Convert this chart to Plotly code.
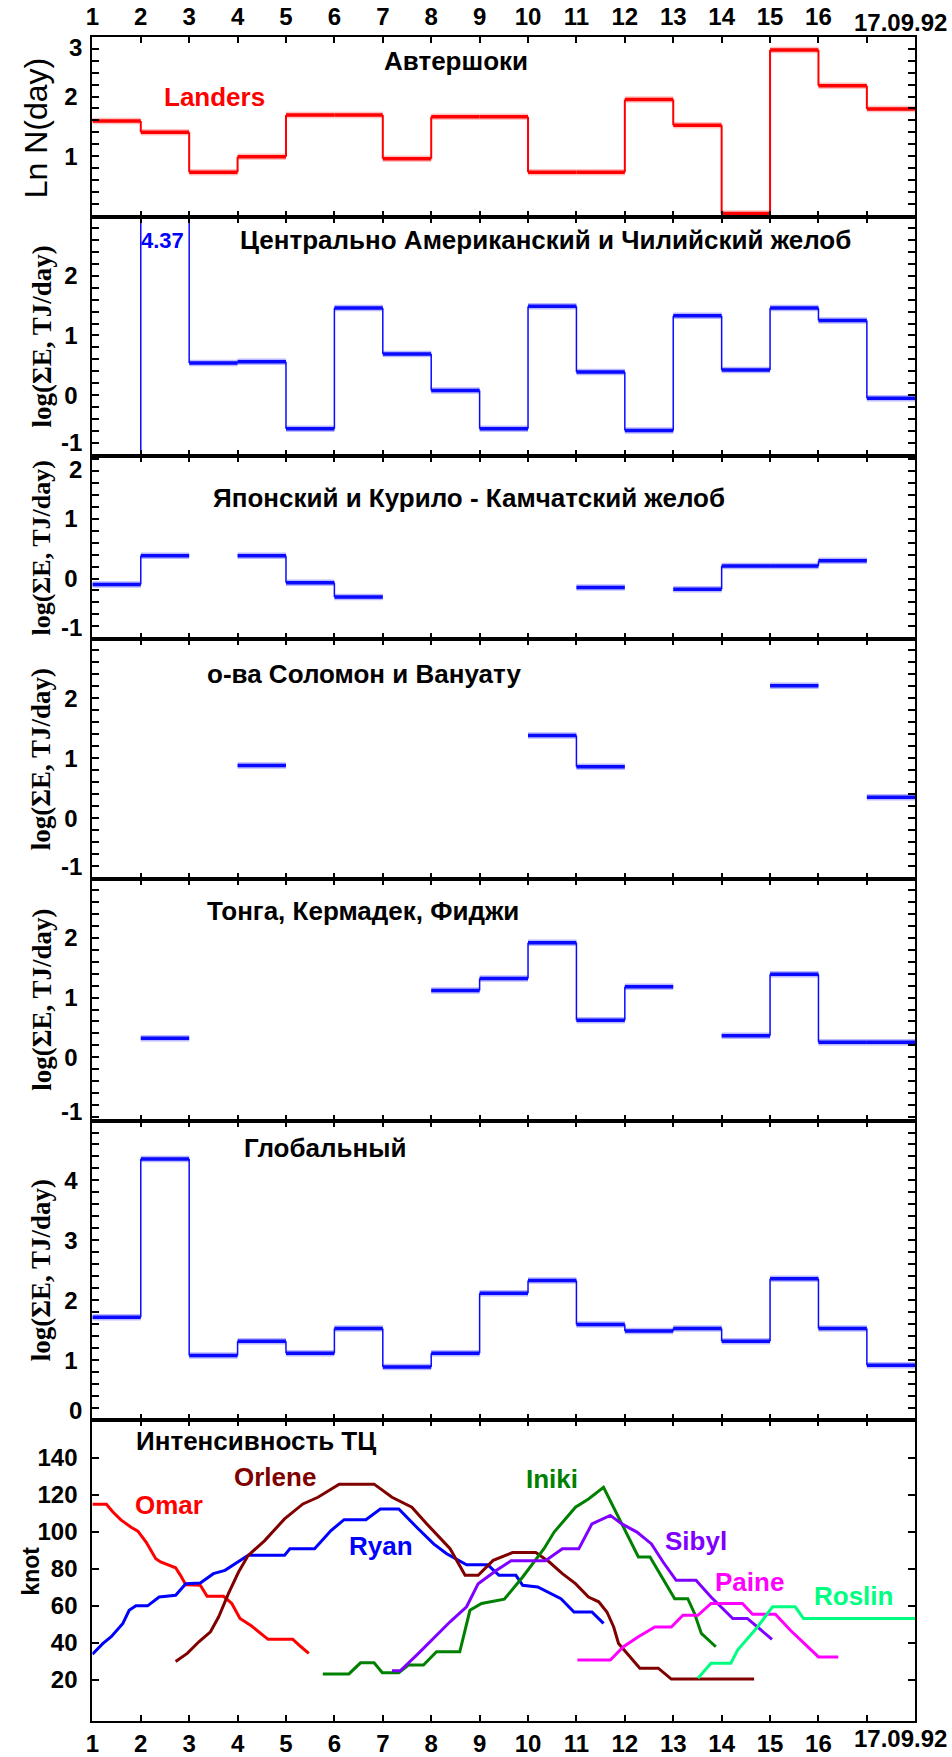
import plotly.graph_objects as go

# ---------------- data ----------------
DAYS = list(range(1, 18))                 # each daily value spans [day, day+1]
X_TICKS = list(range(1, 18))
X_TICK_TEXT = [str(d) for d in range(1, 17)] + [""]
LAST_DATE_LABEL = "17.09.92"

LANDERS = [1.59, 1.40, 0.73, 0.99, 1.69, 1.69, 0.96, 1.66, 1.66, 0.73, 0.73, 1.95, 1.52, 0.04, 2.78, 2.18, 1.79]
CA_CHILE = [None, 4.37, 0.54, 0.56, -0.56, 1.46, 0.69, 0.08, -0.56, 1.49, 0.39, -0.59, 1.33, 0.42, 1.46, 1.25, -0.05]
JAPAN = [-0.10, 0.38, None, 0.38, -0.07, -0.31, None, None, None, None, -0.15, None, -0.18, 0.21, 0.21, 0.30, None]
SOLOMON = [None, None, None, 0.88, None, None, None, None, None, 1.38, 0.86, None, None, None, 2.21, None, 0.35]
TONGA = [None, 0.32, None, None, None, None, None, 1.12, 1.32, 1.92, 0.62, 1.18, None, 0.36, 1.39, 0.25, 0.25]
GLOBAL = [1.72, 4.36, 1.08, 1.32, 1.12, 1.53, 0.89, 1.12, 2.12, 2.33, 1.60, 1.49, 1.53, 1.32, 2.36, 1.53, 0.92]

OMAR_DAY = [1.0, 1.29, 1.42, 1.59, 1.80, 1.94, 2.11, 2.21, 2.31, 2.41, 2.58, 2.72, 2.82, 2.93, 3.23, 3.37, 3.71, 3.88, 4.05, 4.29, 4.63, 5.14, 5.31, 5.47]
OMAR_KT = [115, 115, 111, 106.6, 102.6, 100.5, 94.6, 90, 85.6, 83.8, 82, 80.7, 76.6, 71.5, 71.2, 65.3, 65.3, 61.4, 53.3, 49.2, 42, 42, 38, 34.4]

RYAN_DAY = [1.0, 1.22, 1.39, 1.63, 1.76, 1.90, 2.14, 2.38, 2.72, 2.93, 3.23, 3.50, 3.74, 3.91, 4.22, 4.97, 5.08, 5.59, 5.93, 6.20, 6.65, 6.95, 7.33, 7.70, 8.05, 8.32, 8.73, 9.17, 9.40, 9.75, 9.89, 10.20, 10.44, 10.68, 10.95, 11.32, 11.56]
RYAN_KT = [34, 39.8, 43.4, 50.6, 57.7, 60.1, 60.1, 64.9, 65.8, 72.1, 72.5, 77.5, 79.3, 82.0, 87.4, 87.4, 91.0, 91.0, 100.8, 106.7, 106.7, 112.5, 112.5, 102.6, 93.6, 88.3, 82.3, 82.3, 76.6, 76.6, 71.2, 70.3, 67.1, 64.0, 56.8, 56.8, 50.6]

ORLENE_DAY = [2.72, 2.96, 3.20, 3.44, 3.61, 3.81, 4.02, 4.22, 4.56, 4.97, 5.35, 5.66, 6.10, 6.82, 7.19, 7.60, 7.91, 8.39, 8.70, 8.97, 9.28, 9.68, 10.16, 10.44, 10.71, 10.98, 11.25, 11.46, 11.63, 11.77, 11.87, 12.07, 12.31, 12.69, 12.96, 14.67]
ORLENE_KT = [30.0, 34.4, 40.7, 46.1, 54.2, 66.7, 78.4, 87.4, 95.4, 107.1, 115.2, 118.8, 125.9, 125.9, 118.8, 113.4, 104.4, 91.0, 76.6, 76.6, 84.7, 88.9, 88.9, 83.8, 77.5, 72.1, 64.9, 62.3, 56.8, 48.7, 39.8, 33.5, 26.4, 26.4, 20.5, 20.5]

INIKI_DAY = [5.76, 6.30, 6.54, 6.82, 6.99, 7.33, 7.53, 7.84, 8.11, 8.59, 8.80, 9.04, 9.51, 9.89, 10.33, 10.54, 10.98, 11.25, 11.56, 11.90, 12.28, 12.52, 12.76, 13.03, 13.30, 13.44, 13.58, 13.88]
INIKI_KT = [23.3, 23.3, 29.3, 29.3, 23.9, 23.9, 28.1, 28.1, 35.3, 35.3, 57.7, 61.4, 63.7, 75.7, 91.0, 100.0, 113.4, 117.9, 124.2, 106.2, 86.5, 86.5, 75.7, 64.0, 64.0, 56.0, 45.2, 38.0]

SIBYL_DAY = [7.19, 7.36, 7.70, 8.08, 8.39, 8.73, 8.97, 9.35, 9.65, 10.36, 10.71, 11.05, 11.32, 11.70, 11.94, 12.25, 12.55, 12.79, 13.06, 13.47, 13.78, 14.23, 14.53, 15.04]
SIBYL_KT = [25.0, 25.0, 33.5, 43.4, 51.5, 59.6, 72.1, 79.3, 84.5, 84.5, 91.0, 91.0, 104.4, 109.0, 104.4, 100.0, 93.6, 83.8, 73.9, 73.9, 64.9, 53.3, 53.3, 42.0]

PAINE_DAY = [11.02, 11.70, 11.97, 12.28, 12.62, 12.96, 13.20, 13.51, 13.78, 14.43, 14.64, 15.11, 15.42, 16.00, 16.41]
PAINE_KT = [30.8, 30.8, 38.0, 43.4, 48.7, 48.7, 55.0, 55.0, 61.4, 61.4, 55.6, 55.6, 46.9, 32.5, 32.5]

ROSLIN_DAY = [13.51, 13.78, 14.19, 14.33, 14.74, 15.05, 15.52, 15.69, 18.0]
ROSLIN_KT = [21.0, 29.1, 29.1, 36.2, 48.7, 59.6, 59.6, 53.3, 53.3]

KNOT_TICKS = [20, 40, 60, 80, 100, 120, 140]

# integer labels per energy panel (edge labels are nudged inward, as in the original)
Y_LABELS = [[1, 2, 3], [-1, 0, 1, 2, 3], [-1, 0, 1, 2], [-1, 0, 1, 2, 3], [-1, 0, 1, 2, 3], [0, 1, 2, 3, 4]]

# ---------------- layout constants ----------------
W, H = 952, 1757
PLOT_L, PLOT_R = 86, 915
PANEL_PX = [(37, 218), (218, 458), (458, 642), (642, 883), (883, 1125), (1125, 1426), (1426, 1728)]
Y_RANGES = [[-0.02, 3.0], [-1.02, 2.98], [-1.02, 2.05], [-1.02, 2.98], [-1.06, 2.98], [0, 5.0], [-2.2, 160.4]]
EDGE_NUDGE = {1: {3: 11}, 2: {3: 12, -1: -12}, 3: {2: 10, -1: -11}, 4: {3: 14, -1: -12},
              5: {3: 14, -1: -5}, 6: {0: -10}}
SANS = "Liberation Sans, Arial, sans-serif"
SERIF = "Liberation Serif, Times New Roman, serif"
BLUE = "#0a0aff"
BLUE_HALO = "rgba(80,80,255,0.40)"
TICK_FONT = dict(family=SANS, size=24, color="black", weight="bold")
LABEL_STANDOFF = 8

fig = go.Figure()


def axname(i, kind):
    return kind if i == 1 else f"{kind}{i}"


def add_steps(i, vals, color, halo, hw, vw, rise_from_floor=False):
    xa, ya = axname(i, "x"), axname(i, "y")
    hx, hy = [], []
    for d, v in zip(DAYS, vals):
        if v is None:
            continue
        hx += [d, d + 1, None]
        hy += [v, v, None]
    vx, vy = [], []
    for k in range(len(vals) - 1):
        a, b = vals[k], vals[k + 1]
        if b is None:
            continue
        if a is None:
            if rise_from_floor:
                a = Y_RANGES[i - 1][0] - 1
            else:
                continue
        if a == b:
            continue
        vx += [DAYS[k + 1], DAYS[k + 1], None]
        vy += [a, b, None]
    if halo:
        fig.add_trace(go.Scatter(x=hx, y=hy, mode="lines", line=dict(color=halo, width=hw + 3),
                                 xaxis=xa, yaxis=ya, hoverinfo="skip", showlegend=False))
    fig.add_trace(go.Scatter(x=vx, y=vy, mode="lines", line=dict(color=color, width=vw),
                             xaxis=xa, yaxis=ya, hoverinfo="skip", showlegend=False))
    fig.add_trace(go.Scatter(x=hx, y=hy, mode="lines", line=dict(color=color, width=hw),
                             xaxis=xa, yaxis=ya, hoverinfo="skip", showlegend=False))


add_steps(1, LANDERS, "#ff0000", "rgba(255,80,80,0.35)", 3.5, 2)
add_steps(2, CA_CHILE, BLUE, BLUE_HALO, 3.5, 1.5, rise_from_floor=True)
add_steps(3, JAPAN, BLUE, BLUE_HALO, 3.5, 1.5)
add_steps(4, SOLOMON, BLUE, BLUE_HALO, 3.5, 1.5)
add_steps(5, TONGA, BLUE, BLUE_HALO, 3.5, 1.5)
add_steps(6, GLOBAL, BLUE, BLUE_HALO, 3.5, 1.5)

TC = [
    ("Omar", OMAR_DAY, OMAR_KT, "#ff0000"),
    ("Ryan", RYAN_DAY, RYAN_KT, "#0000ff"),
    ("Orlene", ORLENE_DAY, ORLENE_KT, "#800000"),
    ("Iniki", INIKI_DAY, INIKI_KT, "#008000"),
    ("Sibyl", SIBYL_DAY, SIBYL_KT, "#8000ff"),
    ("Paine", PAINE_DAY, PAINE_KT, "#ff00ff"),
    ("Roslin", ROSLIN_DAY, ROSLIN_KT, "#00ff80"),
]
for name, xs, ys, col in TC:
    fig.add_trace(go.Scatter(x=xs, y=ys, mode="lines", name=name, line=dict(color=col, width=3),
                             xaxis="x7", yaxis="y7", hoverinfo="skip", showlegend=False))


# ---------------- text helper ----------------
def ann(text, x_px, y_px, size, color="black", weight="bold", family=SANS,
        xanchor="center", angle=0):
    return dict(text=text, x=x_px / W, y=1 - y_px / H, xref="paper", yref="paper",
                xanchor=xanchor, yanchor="middle", showarrow=False, textangle=angle,
                font=dict(family=family, size=size, color=color, weight=weight))


anns = []

# ---------------- axes ----------------
layout_axes = {}
for i in range(1, 8):
    top, bot = PANEL_PX[i - 1]
    lo, hi = Y_RANGES[i - 1]
    xkey = "xaxis" if i == 1 else f"xaxis{i}"
    ykey = "yaxis" if i == 1 else f"yaxis{i}"
    show_x = i in (1, 7)
    layout_axes[xkey] = dict(
        domain=[PLOT_L / W, PLOT_R / W], range=[1, 18], anchor=axname(i, "y"),
        tickmode="array", tickvals=X_TICKS, ticktext=X_TICK_TEXT,
        ticks="inside", ticklen=6, tickwidth=1.5, tickcolor="black",
        showline=True, linewidth=2, linecolor="black", mirror="ticks",
        showgrid=False, zeroline=False, showticklabels=show_x,
        side="top" if i == 1 else "bottom", tickfont=TICK_FONT,
    )
    if i < 7:
        labels = Y_LABELS[i - 1]
        nudges = EDGE_NUDGE.get(i, {})
        start = round(-(-lo // 0.2) * 0.2, 1)
        tv, tt = [], []
        v = start
        while v <= hi + 1e-9:
            vr = round(v, 1)
            tv.append(vr)
            is_int = abs(vr - round(vr)) < 1e-9
            iv = int(round(vr))
            if is_int and iv in labels and iv not in nudges:
                tt.append(str(iv))
            else:
                tt.append("")
            v += 0.2
        for val, shift in nudges.items():
            anns.append(dict(text=str(val), x=(PLOT_L - LABEL_STANDOFF) / W, xref="paper",
                             xanchor="right", y=val, yref=axname(i, "y"), yanchor="middle",
                             yshift=-shift, showarrow=False, font=TICK_FONT))
    else:
        tv = KNOT_TICKS
        tt = [str(k) for k in KNOT_TICKS]
    layout_axes[ykey] = dict(
        domain=[1 - bot / H, 1 - top / H], range=[lo, hi], anchor=axname(i, "x"),
        tickmode="array", tickvals=tv, ticktext=tt,
        ticks="inside", ticklen=7, tickwidth=1.5, tickcolor="black",
        showline=True, linewidth=2, linecolor="black", mirror="ticks",
        showgrid=False, zeroline=False, ticklabelstandoff=LABEL_STANDOFF,
        tickfont=TICK_FONT,
    )

# ---------------- text ----------------
anns += [
    ann(LAST_DATE_LABEL, 900, 23, 24),
    ann(LAST_DATE_LABEL, 900, 1745, 24),
    ann("Автершоки", 452, 61, 26),
    ann("Landers", 209, 97, 26, color="#ff0000"),
    ann("4.37", 157, 241, 22, color="#0000ff"),
    ann("Центрально Американский и Чилийский желоб", 542, 241, 26),
    ann("Японский и Курило - Камчатский желоб", 465, 500, 26),
    ann("о-ва Соломон и Вануату", 199, 677, 26, xanchor="left"),
    ann("Тонга, Кермадек, Фиджи", 199, 915, 26, xanchor="left"),
    ann("Глобальный", 320, 1153, 26),
    ann("Интенсивность ТЦ", 128, 1447, 26, xanchor="left"),
    ann("Omar", 163, 1511, 26, color="#ff0000"),
    ann("Orlene", 270, 1483, 26, color="#800000"),
    ann("Ryan", 377, 1552, 26, color="#0000ff"),
    ann("Iniki", 549, 1485, 26, color="#008000"),
    ann("Sibyl", 694, 1547, 26, color="#8000ff"),
    ann("Paine", 748, 1588, 26, color="#ff00ff"),
    ann("Roslin", 853, 1602, 26, color="#00ff80"),
    ann("Ln N(day)", 30, 128, 32, weight="normal", angle=-90),
    ann("knot", 24, 1577, 23, angle=-90),
]
for i in range(2, 7):
    top, bot = PANEL_PX[i - 1]
    anns.append(ann("log(ΣE, TJ/day)", 35, (top + bot) / 2, 26 if i == 3 else 27,
                    family=SERIF, angle=-90))

fig.update_layout(
    width=W, height=H, margin=dict(l=0, r=0, t=0, b=0),
    paper_bgcolor="white", plot_bgcolor="white", showlegend=False,
    annotations=anns, **layout_axes,
)

fig.write_html("out.html")
